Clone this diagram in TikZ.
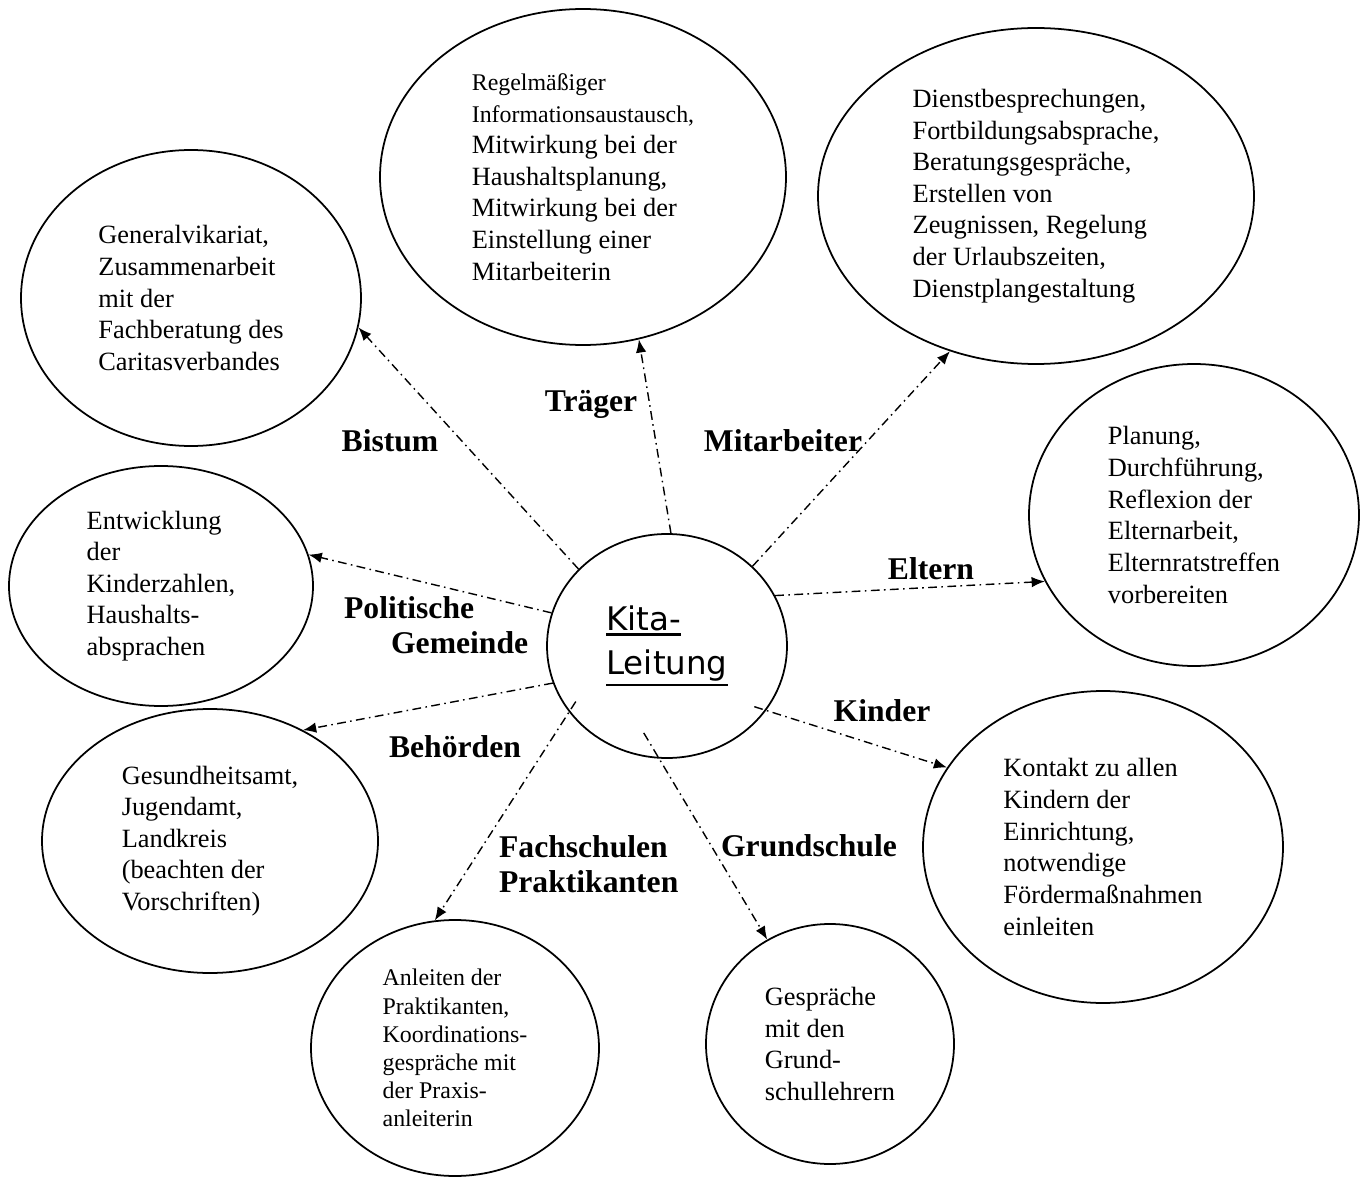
\documentclass[tikz,border=0pt]{standalone}
\usepackage{fontspec}
\setmainfont{Liberation Serif}
\newfontfamily\kitafont{DejaVu Sans}
\usetikzlibrary{shapes.geometric,arrows.meta}
\newcommand{\normsz}{\fontsize{15}{18}\selectfont}
\newcommand{\smallsz}{\fontsize{13.6}{16}\selectfont}
\newcommand{\lblsz}{\fontsize{18}{20}\selectfont\bfseries}
\newcommand{\kitaul}[1]{\vtop{\hbox{#1}\kern1.5pt\hrule height 1.6pt}}

\begin{document}
\begin{tikzpicture}

\tikzset{bubble/.style={shape=ellipse,draw,line width=1pt,inner sep=0pt,align=left,font=\normsz},
link/.style={line width=0.8pt,dash pattern=on 5pt off 2.5pt on 0.9pt off 2.5pt,-{Latex[length=7.5pt,width=6pt]}},
lbl/.style={font=\lblsz,inner sep=1pt}}

\useasboundingbox (0,0) rectangle (27.32,-23.56);

% Centre node
\node[bubble,minimum width=4.8cm,minimum height=4.48cm,font=\kitafont\fontsize{18.5}{25}\selectfont] (kita) at (13.34,-12.92) {\kitaul{Kita-}\\ \kitaul{Leitung}};

% Outer nodes
\node[bubble,minimum width=6.8cm,minimum height=5.92cm] (gen) at (3.82,-5.96) {Generalvikariat,\\ Zusammenarbeit\\ mit der\\ Fachberatung des\\ Caritasverbandes};
\node[bubble,minimum width=8.12cm,minimum height=6.72cm] (traeger) at (11.66,-3.54) {{\smallsz Regelmäßiger}\\ {\smallsz Informationsaustausch,}\\ Mitwirkung bei der\\ Haushaltsplanung,\\ Mitwirkung bei der\\ Einstellung einer\\ Mitarbeiterin};
\node[bubble,minimum width=8.72cm,minimum height=6.72cm] (mitarb) at (20.72,-3.92) {Dienstbesprechungen,\\ Fortbildungsabsprache,\\ Beratungsgespräche,\\ Erstellen von\\ Zeugnissen, Regelung\\ der Urlaubszeiten,\\ Dienstplangestaltung};
\node[bubble,minimum width=6.6cm,minimum height=6.04cm] (eltern) at (23.88,-10.30) {Planung,\\ Durchführung,\\ Reflexion der\\ Elternarbeit,\\ Elternratstreffen\\ vorbereiten};
\node[bubble,minimum width=6.08cm,minimum height=4.8cm] (gemeinde) at (3.22,-11.72) {Entwicklung\\ der\\ Kinderzahlen,\\ Haushalts-\\ absprachen};
\node[bubble,minimum width=6.72cm,minimum height=5.28cm] (behoerden) at (4.2,-16.82) {Gesundheitsamt,\\ Jugendamt,\\ Landkreis\\ (beachten der\\ Vorschriften)};
\node[bubble,minimum width=5.76cm,minimum height=5.12cm,font=\smallsz] (fach) at (9.1,-20.96) {Anleiten der\\ Praktikanten,\\ Koordinations-\\ gespräche mit\\ der Praxis-\\ anleiterin};
\node[bubble,minimum width=7.2cm,minimum height=6.24cm] (kinder) at (22.06,-16.94) {Kontakt zu allen\\ Kindern der\\ Einrichtung,\\ notwendige\\ Fördermaßnahmen\\ einleiten};
\node[bubble,minimum width=4.96cm,minimum height=4.8cm] (grund) at (16.6,-20.88) {Gespräche\\ mit den\\ Grund-\\ schullehrern};

% Labels
\node[lbl] (lbistum) at (7.8,-8.82) {Bistum};
\node[lbl] (ltraeger) at (11.82,-8.08) {Träger};
\node[lbl] (lmitarb) at (15.66,-8.82) {Mitarbeiter};
\node[lbl] (leltern) at (18.62,-11.38) {Eltern};
\node[lbl,anchor=west,align=left] (lgemeinde) at (6.84,-12.5) {Politische\\ \hspace*{0.94cm}Gemeinde};
\node[lbl] (lbehoerden) at (9.1,-14.94) {Behörden};
\node[lbl,anchor=west,align=left] (lfach) at (9.94,-17.28) {Fachschulen\\ Praktikanten};
\node[lbl] (lgrund) at (16.18,-16.92) {Grundschule};
\node[lbl] (lkinder) at (17.64,-14.22) {Kinder};

% Edges
\draw[link] (kita.139) -- (gen.-10);
\draw[link] (kita.88) -- (traeger.-71);
\draw[link] (kita.43) -- (mitarb.-119);
\draw[link] (kita.25) -- (eltern.-156);
\draw[link] (kita.164) -- (gemeinde.12);
\draw[link] (kita.-162) -- (behoerden.50);
\draw[link,shorten <=-0.25cm] (kita.-146) -- (fach.99);
\draw[link,shorten <=-0.6cm] (kita.-94) -- (grund.121);
\draw[link,shorten <=-0.25cm] (kita.-33) -- (kinder.153);

\end{tikzpicture}
\end{document}
